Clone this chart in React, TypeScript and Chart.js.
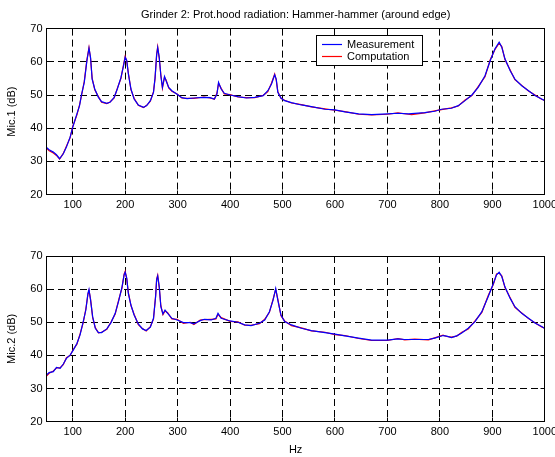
import React, { useEffect, useRef } from "react";
import { Chart, registerables } from "chart.js";

Chart.register(...registerables);

// ---------------- data ----------------
const TITLE = "Grinder 2: Prot.hood radiation: Hammer-hammer (around edge)";
const SERIES_NAMES = ["Measurement", "Computation"];
const SERIES_COLORS = ["#0000ff", "#ff0000"];
const X_LABEL = "Hz";
const Y_LABEL_1 = "Mic.1 (dB)";
const Y_LABEL_2 = "Mic.2 (dB)";
const X_TICKS = [100, 200, 300, 400, 500, 600, 700, 800, 900, 1000];
const Y_TICKS = [20, 30, 40, 50, 60, 70];
const X_MIN = 50;
const X_MAX = 1000;
const Y_MIN = 20;
const Y_MAX = 70;

const FREQ_1 = [50,55,63,69,75,82,88,95,100,108,113,117,122,127,131,134,137,142,149,155,165,171,179,185,192,197,200,203,206,211,217,225,235,241,248,254,257,260,262,265,268,271,275,278,283,289,299,308,318,331,350,362,370,375,378,383,389,400,415,431,447,463,472,479,485,488,491,497,504,517,536,555,581,600,619,645,670,700,720,740,746,771,790,803,822,835,848,861,873,886,896,905,913,918,924,934,943,956,969,982,994,1000];
const MEAS_1 = [34.2,33.5,32.8,32.0,30.8,32.3,34.3,37.3,40.3,44.3,46.8,50.3,53.8,60.3,64.1,61.3,54.8,51.8,49.3,48.0,47.5,47.8,49.3,51.8,55.3,58.9,61.4,60.4,56.4,51.8,48.8,47.0,46.3,46.8,48.3,50.8,55.3,62.0,64.3,61.3,55.8,52.3,55.6,54.3,52.3,51.3,50.2,49.2,48.9,49.1,49.3,49.2,48.8,50.3,53.8,51.8,50.5,50.0,49.5,49.1,49.3,49.8,51.3,53.3,56.1,54.8,50.8,49.1,48.3,47.7,47.0,46.5,45.7,45.5,44.9,44.3,44.1,44.3,44.5,44.3,44.4,44.7,45.1,45.7,46.0,46.8,48.3,50.0,52.3,55.8,60.4,63.9,65.9,64.4,60.9,57.3,54.8,52.8,51.3,49.8,48.8,48.3];
const COMP_1 = [34.0,33.2,32.5,31.8,30.7,32.4,34.6,37.1,40.5,44.0,47.0,50.0,54.1,60.6,64.3,61.0,55.1,51.6,49.5,47.8,47.4,47.9,49.1,52.0,55.0,59.2,61.6,60.1,56.7,51.6,49.0,46.9,46.2,46.9,48.1,51.0,55.0,62.3,64.5,61.0,56.1,52.1,55.3,54.5,52.1,51.1,50.3,49.1,49.0,49.0,49.4,49.1,48.7,50.6,53.5,52.0,50.3,50.1,49.4,49.2,49.2,49.9,51.0,53.6,56.3,54.5,51.0,49.0,48.4,47.6,47.1,46.4,45.8,45.4,45.0,44.2,44.0,44.2,44.6,44.2,44.1,44.6,45.2,45.6,46.1,46.7,48.5,49.8,52.5,55.5,60.6,63.7,65.6,64.6,60.7,57.5,54.6,52.9,51.2,49.9,48.7,48.4];

const FREQ_2 = [50,55,63,69,76,82,88,95,101,108,114,120,125,129,131,134,138,143,149,155,165,173,181,188,194,198,200,203,206,211,217,225,233,240,248,254,258,260,262,265,268,272,276,281,289,299,311,324,331,343,351,364,373,377,383,400,415,428,440,456,466,475,482,487,491,497,504,517,536,555,581,600,619,645,670,700,720,733,752,778,790,806,813,822,832,841,854,867,880,892,902,908,913,918,924,934,943,956,969,982,994,1000];
const MEAS_2 = [34.1,34.8,35.1,36.4,36.1,37.4,39.1,40.1,41.6,43.6,46.2,50.2,53.7,58.7,59.9,56.7,51.7,48.2,46.9,46.9,48.0,49.9,52.7,56.7,60.7,64.3,65.1,63.3,58.7,55.2,52.2,49.5,48.0,47.5,48.5,51.2,57.7,62.8,64.0,60.7,54.7,52.5,53.7,52.7,51.2,50.7,49.9,49.9,49.5,50.5,50.9,50.7,51.2,52.7,51.2,50.4,50.0,49.2,49.0,49.7,50.7,53.2,56.7,60.2,56.7,52.2,50.2,49.2,48.2,47.5,46.9,46.4,45.9,45.2,44.6,44.6,45.0,44.8,44.8,44.8,45.2,46.0,45.8,45.4,45.9,46.7,48.2,50.2,53.2,57.7,61.7,64.3,65.1,63.8,60.7,57.2,54.7,52.7,51.2,49.7,48.7,48.1];
const COMP_2 = [33.8,34.6,35.3,36.2,36.3,37.2,39.3,40.0,41.8,43.4,46.5,49.9,54.0,58.4,59.6,57.0,51.4,48.4,46.8,47.0,47.9,50.1,52.5,57.0,60.4,64.6,65.4,63.0,59.0,55.0,52.4,49.3,48.1,47.4,48.7,51.0,58.0,63.1,64.2,60.4,55.0,52.3,53.4,52.9,51.0,50.9,49.7,50.0,49.3,50.7,50.8,50.9,51.0,52.4,51.4,50.3,50.1,49.1,49.1,49.6,50.9,53.0,57.0,59.9,57.0,52.0,50.4,49.0,48.3,47.4,47.0,46.3,46.0,45.1,44.5,44.5,45.1,44.7,44.9,44.7,45.3,46.1,45.7,45.5,45.8,46.9,48.0,50.4,53.0,58.0,61.5,64.6,64.8,64.0,60.5,57.4,54.5,52.8,51.1,49.8,48.6,48.2];

// ---------------- layout / style ----------------
const W = 555;
const FONT_FAMILY = "'Liberation Sans', Arial, Helvetica, sans-serif";
const AREA_LEFT = 46.5;
const AREA_RIGHT = 544.8;
const LINE_WIDTH = 1.2;

const framePlugin = {
  id: "matlabFrame",
  afterDraw(chart: any) {
    const { ctx, chartArea: a, scales } = chart;
    const al = (v: number) => Math.round(v - 0.5) + 0.5;
    const l = al(a.left), r = al(a.right), t = al(a.top), b = al(a.bottom);
    ctx.save();
    ctx.strokeStyle = "#000";
    ctx.lineWidth = 1;
    ctx.setLineDash([]);
    ctx.strokeRect(l, t, r - l, b - t);
    const tl = 4;
    ctx.beginPath();
    X_TICKS.forEach((v) => {
      const px = al(scales.x.getPixelForValue(v));
      ctx.moveTo(px, b); ctx.lineTo(px, b - tl);
      ctx.moveTo(px, t); ctx.lineTo(px, t + tl);
    });
    Y_TICKS.forEach((v) => {
      const py = al(scales.y.getPixelForValue(v));
      ctx.moveTo(l, py); ctx.lineTo(l + tl, py);
      ctx.moveTo(r, py); ctx.lineTo(r - tl, py);
    });
    ctx.stroke();
    ctx.restore();
  },
};

const legendBoxPlugin = {
  id: "legendBox",
  afterDatasetsDraw(chart: any, _args: any, opts: any) {
    if (!opts || !opts.show) return;
    const ctx = chart.ctx;
    const x = 316, y = 35, w = 106, h = 30;
    ctx.save();
    ctx.fillStyle = "#fff";
    ctx.fillRect(x, y, w, h);
    ctx.strokeStyle = "#000";
    ctx.lineWidth = 1;
    ctx.setLineDash([]);
    ctx.strokeRect(x + 0.5, y + 0.5, w, h);
    ctx.font = `11px ${FONT_FAMILY}`;
    ctx.textBaseline = "middle";
    ctx.textAlign = "left";
    chart.data.datasets.forEach((ds: any, i: number) => {
      const ly = y + 9 + i * 12;
      ctx.strokeStyle = ds.borderColor;
      ctx.lineWidth = LINE_WIDTH;
      ctx.beginPath();
      ctx.moveTo(x + 6, ly + 0.5);
      ctx.lineTo(x + 26, ly + 0.5);
      ctx.stroke();
      ctx.fillStyle = "#000";
      ctx.fillText(ds.label, x + 31, ly + 0.5);
    });
    ctx.restore();
  },
};

function buildConfig(p: {
  freq: number[]; meas: number[]; comp: number[]; yLabel: string;
  height: number; areaTop: number; areaBottom: number;
  showTitle: boolean; showXTitle: boolean; showLegend: boolean;
}) {
  const font = { family: FONT_FAMILY, size: 11 };
  const hideEdges = (min: number, max: number) => (ctx: any) => {
    const v = ctx.tick ? ctx.tick.value : null;
    return v === min || v === max ? "rgba(0,0,0,0)" : "#000";
  };
  const titleH = 11 * 1.2;
  return {
    type: "line" as const,
    data: {
      datasets: [
        {
          label: SERIES_NAMES[0],
          data: p.freq.map((f, i) => ({ x: f, y: p.meas[i] })),
          borderColor: SERIES_COLORS[0],
          borderWidth: LINE_WIDTH,
          pointRadius: 0,
          tension: 0,
          fill: false,
        },
        {
          label: SERIES_NAMES[1],
          data: p.freq.map((f, i) => ({ x: f, y: p.comp[i] })),
          borderColor: SERIES_COLORS[1],
          borderWidth: LINE_WIDTH,
          pointRadius: 0,
          tension: 0,
          fill: false,
        },
      ],
    },
    options: {
      animation: false,
      responsive: false,
      maintainAspectRatio: false,
      devicePixelRatio: 1,
      events: [],
      layout: {
        autoPadding: false,
        padding: { left: 0, right: W - AREA_RIGHT, top: p.showTitle ? 0 : p.areaTop, bottom: 0 },
      },
      plugins: {
        legend: { display: false },
        tooltip: { enabled: false },
        title: {
          display: p.showTitle,
          text: TITLE,
          fullSize: false,
          color: "#000",
          font: { ...font, weight: "normal" },
          padding: { top: 8, bottom: p.areaTop - 8 - titleH },
        },
        legendBox: { show: p.showLegend },
      },
      scales: {
        x: {
          type: "linear",
          min: X_MIN,
          max: X_MAX,
          afterBuildTicks: (s: any) => { s.ticks = X_TICKS.map((v) => ({ value: v })); },
          afterFit: (s: any) => {
            s.height = p.height - p.areaBottom;
            s.paddingLeft = 0; s.paddingRight = 0; s.paddingTop = 0; s.paddingBottom = 0;
          },
          ticks: {
            color: "#000",
            font,
            padding: 4,
            maxRotation: 0,
            autoSkip: false,
            callback: (v: any) => String(v),
          },
          grid: { color: hideEdges(X_MIN, X_MAX), lineWidth: 1, drawTicks: false },
          border: { display: false, dash: [7, 4] },
          title: {
            display: p.showXTitle,
            text: X_LABEL,
            color: "#000",
            font,
            padding: { top: 0, bottom: 0 },
          },
        },
        y: {
          type: "linear",
          min: Y_MIN,
          max: Y_MAX,
          afterBuildTicks: (s: any) => { s.ticks = Y_TICKS.map((v) => ({ value: v })); },
          afterFit: (s: any) => {
            s.width = AREA_LEFT;
            s.paddingLeft = 0; s.paddingRight = 0; s.paddingTop = 0; s.paddingBottom = 0;
          },
          ticks: { color: "#000", font, padding: 4, callback: (v: any) => String(v) },
          grid: { color: hideEdges(Y_MIN, Y_MAX), lineWidth: 1, drawTicks: false },
          border: { display: false, dash: [7, 4] },
          title: {
            display: true,
            text: p.yLabel,
            color: "#000",
            font,
            padding: { top: 5.4, bottom: 0 },
          },
        },
      },
    },
    plugins: [framePlugin, legendBoxPlugin],
  };
}

function Panel(props: any) {
  const ref = useRef<HTMLCanvasElement | null>(null);
  useEffect(() => {
    if (!ref.current) return;
    const chart = new Chart(ref.current, buildConfig(props) as any);
    return () => chart.destroy();
  }, []);
  return (
    <canvas
      ref={ref}
      width={W}
      height={props.height}
      style={{ display: "block", width: W, height: props.height }}
    />
  );
}

export default function App() {
  return (
    <div
      style={{
        position: "fixed",
        left: 0,
        top: 0,
        width: W,
        height: 457,
        background: "#fff",
        overflow: "hidden",
      }}
    >
      <Panel
        freq={FREQ_1}
        meas={MEAS_1}
        comp={COMP_1}
        yLabel={Y_LABEL_1}
        height={228}
        areaTop={28.6}
        areaBottom={194.6}
        showTitle={true}
        showXTitle={false}
        showLegend={true}
      />
      <Panel
        freq={FREQ_2}
        meas={MEAS_2}
        comp={COMP_2}
        yLabel={Y_LABEL_2}
        height={229}
        areaTop={28}
        areaBottom={193.7}
        showTitle={false}
        showXTitle={true}
        showLegend={false}
      />
    </div>
  );
}
